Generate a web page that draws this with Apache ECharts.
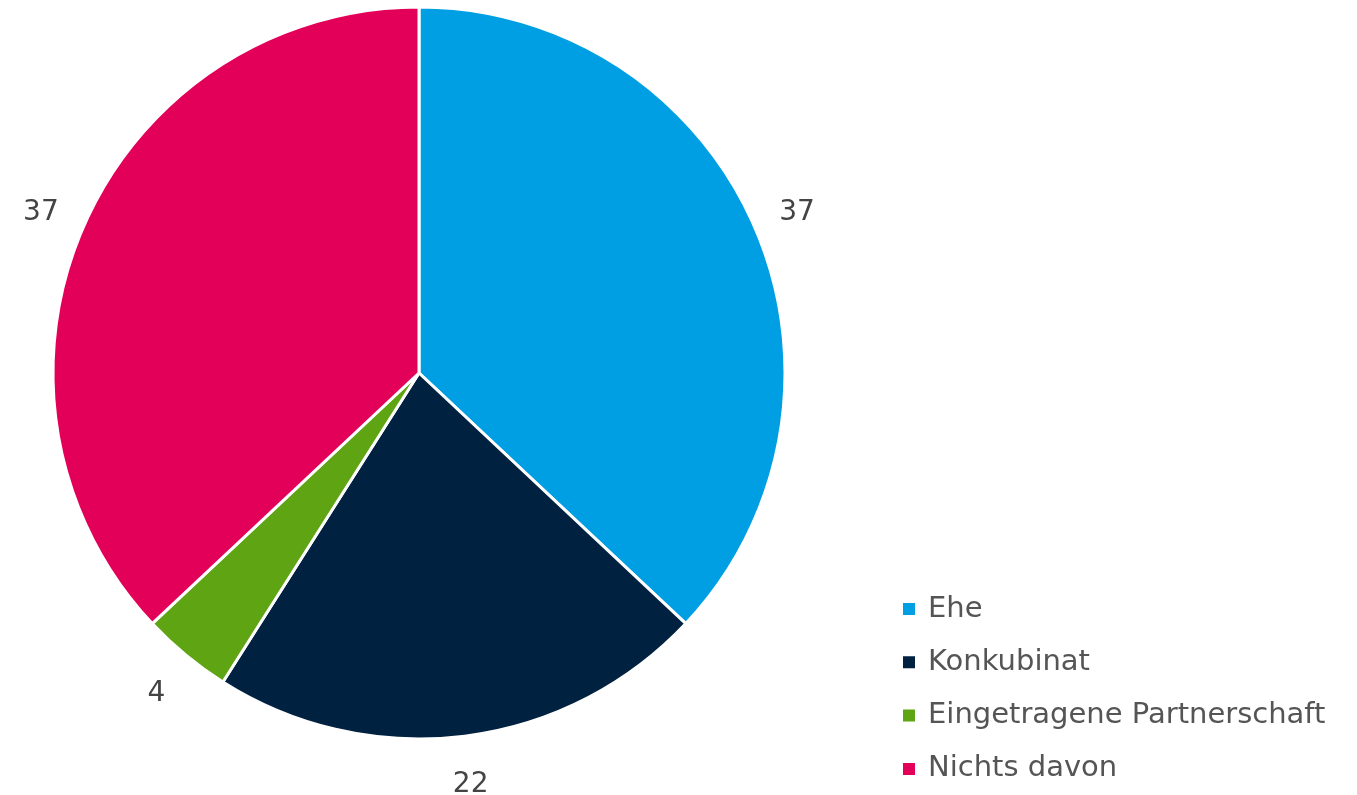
<!DOCTYPE html>
<html><head><meta charset="utf-8">
<script src="https://cdn.jsdelivr.net/npm/echarts@6/dist/echarts.min.js"></script>
<style>html,body{margin:0;padding:0;background:#fff}#c{width:1357px;height:795px}</style>
</head><body><div id="c"></div>
<script>
const categories = ['Ehe', 'Konkubinat', 'Eingetragene Partnerschaft', 'Nichts davon'];
const values = [37, 22, 4, 37];
const colors = ['#009FE3', '#00213F', '#5FA413', '#E30059'];

const FONT = 'DejaVu Sans';
const data = categories.map((n, i) => ({ name: n, value: values[i], itemStyle: { color: colors[i] } }));
const chart = echarts.init(document.getElementById('c'));
chart.setOption({
  animation: false,
  legend: {
    orient: 'vertical', left: 901, top: 594, padding: 0,
    itemWidth: 14, itemHeight: 14, itemGap: 23.3, icon: 'rect',
    textStyle: { fontFamily: FONT, fontSize: 29, lineHeight: 30, color: '#555555', padding: [0, 0, 0, 7] },
    data: categories
  },
  series: [{
    type: 'pie', center: [419, 373], radius: [0, 366], startAngle: 90, clockwise: true,
    silent: true,
    itemStyle: { borderColor: '#fff', borderWidth: 3 },
    label: { show: false }, labelLine: { show: false },
    data: data
  }, {
    type: 'pie', center: [419, 373], radius: [395, 423], startAngle: 90, clockwise: true,
    silent: true,
    itemStyle: { color: 'rgba(0,0,0,0)' },
    label: { show: true, position: 'inside', formatter: '{c}', fontFamily: FONT, fontSize: 28, color: '#444444', offset: [0, 3] },
    labelLine: { show: false },
    data: categories.map((n, i) => ({ name: n, value: values[i], itemStyle: { color: 'rgba(0,0,0,0)' } }))
  }]
});
</script></body></html>
